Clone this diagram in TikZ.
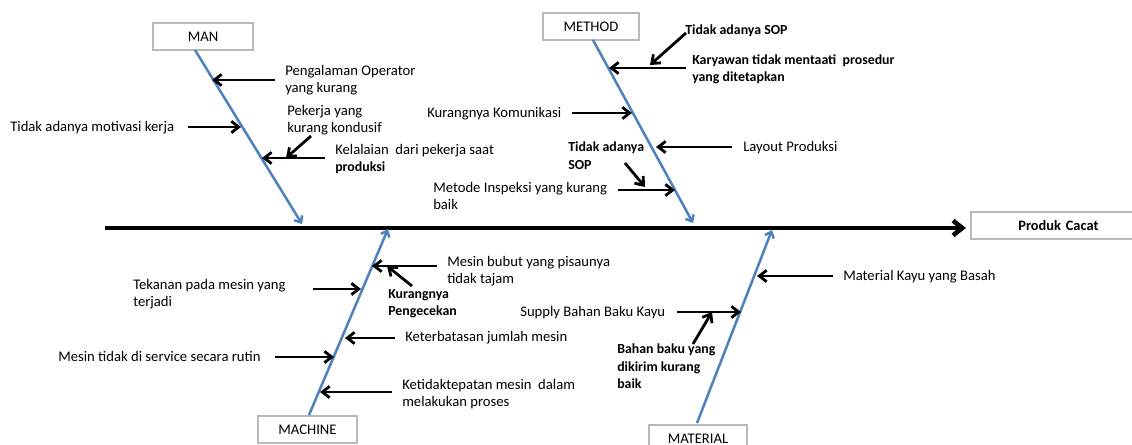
\documentclass[tikz,border=0pt]{standalone}
\usepackage{fontspec}
\setmainfont{Carlito}
\usetikzlibrary{arrows.meta}
\definecolor{bonecol}{RGB}{79,129,189}
\definecolor{boxcol}{RGB}{185,185,185}
\newcommand{\rfont}{\fontsize{11}{13}\selectfont}
\newcommand{\bfont}{\fontsize{10.4}{13}\selectfont\bfseries}
\tikzset{
  catbox/.style={draw=boxcol, line width=1pt, fill=white, inner sep=0pt,
    minimum height=20.25pt, font=\rfont},
  bonearrow/.style={draw=bonecol, line width=1.9pt, line cap=butt,
    -{Straight Barb[length=4pt,width=7pt]}},
  causearrow/.style={draw=black, line width=2.1pt,
    -{Straight Barb[length=5.5pt,width=8.5pt]}},
  spinearrow/.style={draw=black, line width=3.4pt,
    -{Straight Barb[length=7pt,width=11pt]}},
  lbl/.style={anchor=north west, inner sep=0pt, align=left,
    font=\rfont, execute at begin node=\strut},
  blbl/.style={lbl, font=\bfont},
}
\begin{document}
\begin{tikzpicture}[x=0.75pt,y=-0.75pt]
\useasboundingbox (0,0) rectangle (1132,445);

% category boxes
\node[catbox, minimum width=75pt] (man) at (203,36.5) {MAN};
\node[catbox, minimum width=72pt] (method) at (591,26.5) {METHOD};
\node[catbox, minimum width=74.25pt] (machine) at (307.5,429.5) {MACHINE};
\node[catbox, minimum width=73.5pt] (material) at (698,438.5) {MATERIAL};
\node[catbox, minimum width=135pt, font=\fontsize{10.8}{13}\selectfont\bfseries, text width=120pt, align=left] (effect) at (1061,225.5) {\hspace*{28pt}Produk Cacat};

% spine
\coordinate (spineStart) at (105,228);
\coordinate (spineEnd) at (966,228);
\draw[spinearrow] (spineStart) -- (spineEnd);

% bones
\coordinate (manStart) at (195,50);
\coordinate (manTip) at (302,224);
\coordinate (methodStart) at (593,40);
\coordinate (methodTip) at (693,223);
\coordinate (machineStart) at (309,415);
\coordinate (machineTip) at (388,229);
\coordinate (materialStart) at (697,423);
\coordinate (materialTip) at (772,230);
\draw[bonearrow] (manStart) -- (manTip);
\draw[bonearrow] (methodStart) -- (methodTip);
\draw[bonearrow] (machineStart) -- (machineTip);
\draw[bonearrow] (materialStart) -- (materialTip);

% ---------- MAN ----------
\node[lbl] (t1) at (285,65) {Pengalaman Operator\\yang kurang};
\node[lbl] (t2) at (10,119) {Tidak adanya motivasi kerja};
\node[lbl] (t3) at (287,105) {Pekerja yang\\kurang kondusif};
\node[lbl] (t4) at (335,144) {Kelalaian\ \ dari pekerja saat\\{\bfont produksi}};
\coordinate (a1s) at (275,80);  \coordinate (a1e) at (212,80);
\coordinate (a2s) at (188,127); \coordinate (a2e) at (241,127);
\coordinate (a3s) at (311,136); \coordinate (a3e) at (286,158);
\coordinate (a4s) at (325,158); \coordinate (a4e) at (262,158);
\draw[causearrow] (a1s) -- (a1e);
\draw[causearrow] (a2s) -- (a2e);
\draw[causearrow] (a3s) -- (a3e);
\draw[causearrow] (a4s) -- (a4e);

% ---------- METHOD ----------
\node[blbl] (t5) at (685,22) {Tidak adanya SOP};
\node[blbl] (t6) at (692,54) {Karyawan tidak mentaati\ \ prosedur\\yang ditetapkan};
\node[lbl] (t7) at (427,105) {Kurangnya Komunikasi};
\node[lbl] (t8) at (743,139) {Layout Produksi};
\node[blbl] (t9) at (568,142) {Tidak adanya\\SOP};
\node[lbl] (t10) at (433,182) {Metode Inspeksi yang kurang\\baik};
\coordinate (a5s) at (686,33);  \coordinate (a5e) at (650,65);
\coordinate (a6s) at (686,68);  \coordinate (a6e) at (609,68);
\coordinate (a7s) at (572,113); \coordinate (a7e) at (632,113);
\coordinate (a8s) at (732,147); \coordinate (a8e) at (656,147);
\coordinate (a9s) at (625,163); \coordinate (a9e) at (645,187);
\coordinate (a10s) at (618,190); \coordinate (a10e) at (675,190);
\draw[causearrow] (a5s) -- (a5e);
\draw[causearrow] (a6s) -- (a6e);
\draw[causearrow] (a7s) -- (a7e);
\draw[causearrow] (a8s) -- (a8e);
\draw[causearrow] (a9s) -- (a9e);
\draw[causearrow] (a10s) -- (a10e);

% ---------- MACHINE ----------
\node[lbl] (t11) at (447,256) {Mesin bubut yang pisaunya\\tidak tajam};
\node[blbl] (t12) at (388,289) {Kurangnya\\Pengecekan};
\node[lbl] (t13) at (133,279) {Tekanan pada mesin yang\\terjadi};
\node[lbl] (t14) at (405,329) {Keterbatasan jumlah mesin};
\node[lbl] (t15) at (58,349) {Mesin tidak di service secara rutin};
\node[lbl] (t16) at (402,379) {Ketidaktepatan mesin\ \ dalam\\melakukan proses};
\coordinate (a11s) at (437,266); \coordinate (a11e) at (372,266);
\coordinate (a12s) at (412,286); \coordinate (a12e) at (387,266);
\coordinate (a13s) at (313,289); \coordinate (a13e) at (361,289);
\coordinate (a14s) at (395,338); \coordinate (a14e) at (345,338);
\coordinate (a15s) at (275,357); \coordinate (a15e) at (334,357);
\coordinate (a16s) at (392,392); \coordinate (a16e) at (320,392);
\draw[causearrow] (a11s) -- (a11e);
\draw[causearrow] (a12s) -- (a12e);
\draw[causearrow] (a13s) -- (a13e);
\draw[causearrow] (a14s) -- (a14e);
\draw[causearrow] (a15s) -- (a15e);
\draw[causearrow] (a16s) -- (a16e);

% ---------- MATERIAL ----------
\node[lbl] (t17) at (843,268) {Material Kayu yang Basah};
\node[lbl] (t18) at (520,304) {Supply Bahan Baku Kayu};
\node[blbl] (t19) at (617,344) {Bahan baku yang\\dikirim kurang\\baik};
\coordinate (a17s) at (833,276); \coordinate (a17e) at (757,276);
\coordinate (a18s) at (677,312); \coordinate (a18e) at (741,312);
\coordinate (a19s) at (693,344); \coordinate (a19e) at (712,312);
\draw[causearrow] (a17s) -- (a17e);
\draw[causearrow] (a18s) -- (a18e);
\draw[causearrow] (a19s) -- (a19e);
\end{tikzpicture}
\end{document}
